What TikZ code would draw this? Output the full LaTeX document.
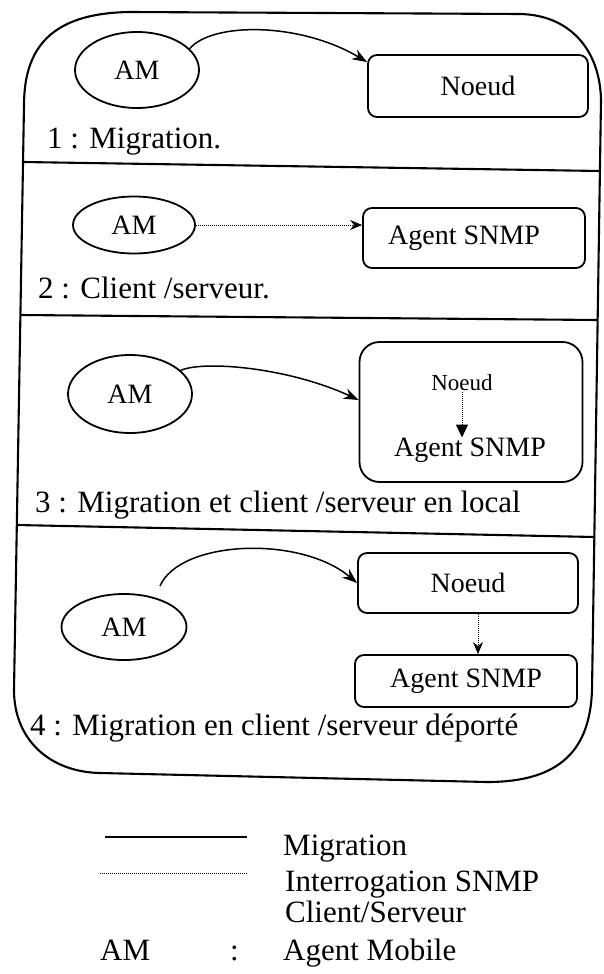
\documentclass[tikz,border=0pt]{standalone}
\usepackage{fontspec}
\setmainfont{Liberation Serif}
\usetikzlibrary{arrows.meta,shapes.geometric}

\begin{document}
\begin{tikzpicture}[x=1pt,y=-1pt,
  frame/.style={line width=2.1pt},
  amnode/.style={draw,ellipse,line width=1.8pt,inner sep=0pt,font=\fontsize{28}{32}\selectfont},
  box/.style={draw,rounded corners=9pt,line width=1.8pt,inner sep=0pt,font=\fontsize{28}{32}\selectfont},
  caption/.style={anchor=base west,inner sep=0pt,font=\fontsize{31}{35}\selectfont},
  legendtext/.style={anchor=base west,inner sep=0pt,font=\fontsize{31}{35}\selectfont},
  mig/.style={line width=1.5pt,-{Stealth[length=15pt,width=11pt]}},
  snmp/.style={line width=1pt,dash pattern=on 1pt off 1pt,-{Stealth[length=12pt,width=10pt]}},
]
\useasboundingbox (0,0) rectangle (603,974);
\fill[white] (0,0) rectangle (603,974);

% outer frame with rounded corners
\draw[frame] (24,105) .. controls (24,40) and (60,13) .. (130,12)
  -- (520,14) .. controls (570,15) and (600,50) .. (601,100)
  -- (592,690) .. controls (590,750) and (560,782) .. (487,782)
  -- (100,773) .. controls (50,772) and (14,740) .. (14,690) -- cycle;

% section separators
\draw[frame] (23.0,162) -- (599.9,171);
\draw[frame] (20.4,315) -- (597.6,320);
\draw[frame] (16.8,525) -- (594.3,537);

% 1 : migration
\node[amnode,minimum width=124pt,minimum height=76pt] (e1) at (137,70) {AM};
\node[box,minimum width=220pt,minimum height=62pt] (n1) at (478,86) {Noeud};
\node[caption] (l1) at (47,148) {1 : Migration.};
\draw[mig] (e1.22) .. controls (212,22) and (300,22) .. ([yshift=-8pt]n1.north west);

% 2 : client / server
\node[amnode,minimum width=122pt,minimum height=57pt] (e2) at (134,225) {AM};
\node[box,minimum width=222pt,minimum height=60pt] (n2) at (474,238) {};
\node[font=\fontsize{28}{32}\selectfont,inner sep=0pt] (n2t) at (464,238) {Agent SNMP};
\node[caption] (l2) at (38,298) {2 : Client /serveur.};
\draw[snmp] (e2.east) -- (e2.east -| n2.west);

% 3 : migration then local client / server
\node[amnode,minimum width=124pt,minimum height=78pt] (e3) at (130,394) {AM};
\node[box,rounded corners=20pt,minimum width=223pt,minimum height=140pt] (b3) at (471,412) {};
\node[font=\fontsize{23}{26}\selectfont,inner sep=1pt] (s3n) at (462,383) {Noeud};
\node[font=\fontsize{28}{32}\selectfont,inner sep=0pt] (s3a) at (470,450) {Agent SNMP};
\node[caption] (l3) at (35,512) {3 : Migration et client /serveur en local};
\draw[mig] (e3.25) .. controls (205,360) and (290,368) .. ([yshift=12pt]b3.west);
\draw[snmp,-{Triangle[length=13pt,width=12pt]}] (s3n.south) -- (s3n.south |- s3a.north);

% 4 : migration then remote client / server
\node[amnode,minimum width=125pt,minimum height=66pt] (e4) at (124,627) {AM};
\node[box,minimum width=220pt,minimum height=60pt] (n4) at (468,583) {Noeud};
\node[box,minimum width=222pt,minimum height=52pt] (a4) at (466,681) {Agent SNMP};
\node[caption] (l4) at (30,735) {4 : Migration en client /serveur déporté};
\draw[mig] ([shift={(10pt,10pt)}]e4.50) .. controls (180,540) and (300,535) .. (n4.west);
\draw[snmp] ([xshift=10pt]n4.south) -- ([xshift=10pt]n4.south |- a4.north);

% legend
\draw[line width=2.6pt] (105,837) -- (247,837);
\draw[line width=1pt,dash pattern=on 1pt off 1pt] (100,873) -- (247,873);
\node[legendtext] (t1) at (283,855) {Migration};
\node[legendtext] (t2) at (285,891) {Interrogation SNMP};
\node[legendtext] (t3) at (285,922) {Client/Serveur};
\node[legendtext] (t5) at (100,960) {AM};
\node[legendtext] (t6) at (230,960) {:};
\node[legendtext] (t4) at (283,960) {Agent Mobile};
\end{tikzpicture}
\end{document}
